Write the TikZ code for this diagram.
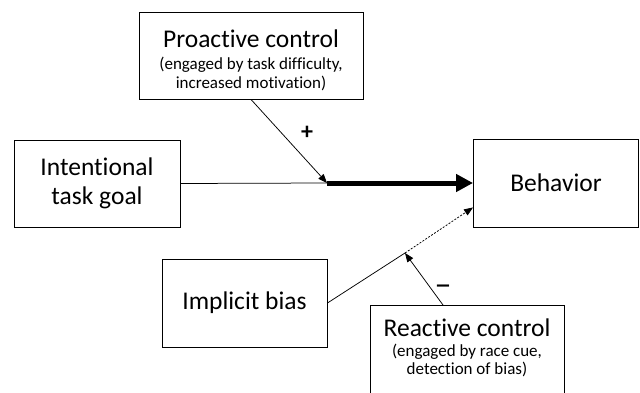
\documentclass[tikz,border=0pt]{standalone}
\usepackage{fontspec}
\setmainfont{Carlito}[Ligatures=NoCommon]
\usetikzlibrary{arrows.meta}
\newcommand{\subline}[1]{{\fontsize{17}{19}\selectfont #1}}

\begin{document}
\begin{tikzpicture}[x=1pt, y=1pt,
    box/.style={draw, line width=0.9pt, align=center, inner sep=0pt},
    big/.style={font=\fontsize{25.5}{29}\selectfont},
    link/.style={line width=0.75pt},
    tip/.style={-{Triangle[length=9pt, width=7pt]}}]
  \useasboundingbox (0,0) rectangle (640,392);
  % boxes, positions taken from the original figure
  \node[box, big, minimum width=224, minimum height=87] (proact) at (251,336.5)
    {\rule{0pt}{27pt}Proactive control\\[-7pt]\subline{(engaged by task difficulty,}\\[-10pt]\subline{increased motivation)}};
  \node[box, big, minimum width=166, minimum height=87] (goal) at (97,208.5) {Intentional\\task goal};
  \node[box, big, minimum width=194, inner ysep=13pt, anchor=north] (react) at (467,87)
    {Reactive control\\[-9pt]\subline{(engaged by race cue,}\\[-11pt]\subline{detection of bias)\rule[-12pt]{0pt}{12pt}}};
  \node[box, big, minimum width=165, minimum height=88] (behav) at (556,209) {Behavior};
  \node[box, big, minimum width=165, minimum height=88] (bias) at (244.5,89) {Implicit bias};
  \coordinate (j1) at (327,209);
  \coordinate (j2) at (405,139);
  % paths
  \draw[link] (goal.east) -- (j1);
  \draw[line width=5pt, -{Triangle[length=17pt, width=17pt]}] (j1) -- (behav.west);
  \draw[link, tip] (proact.south) -- (j1);
  \draw[link] (bias.east) -- (j2);
  \draw[link, dash pattern=on 2pt off 1.5pt, tip] (j2) -- ([yshift=20]behav.south west);
  \draw[link, tip] ([xshift=-24]react.north) -- (j2);
  \node[font=\fontsize{24}{26}\selectfont\bfseries] (plus) at (307,259) {+};
  \node[font=\fontsize{34}{36}\selectfont] (minus) at (443,102) {--};
\end{tikzpicture}
\end{document}
